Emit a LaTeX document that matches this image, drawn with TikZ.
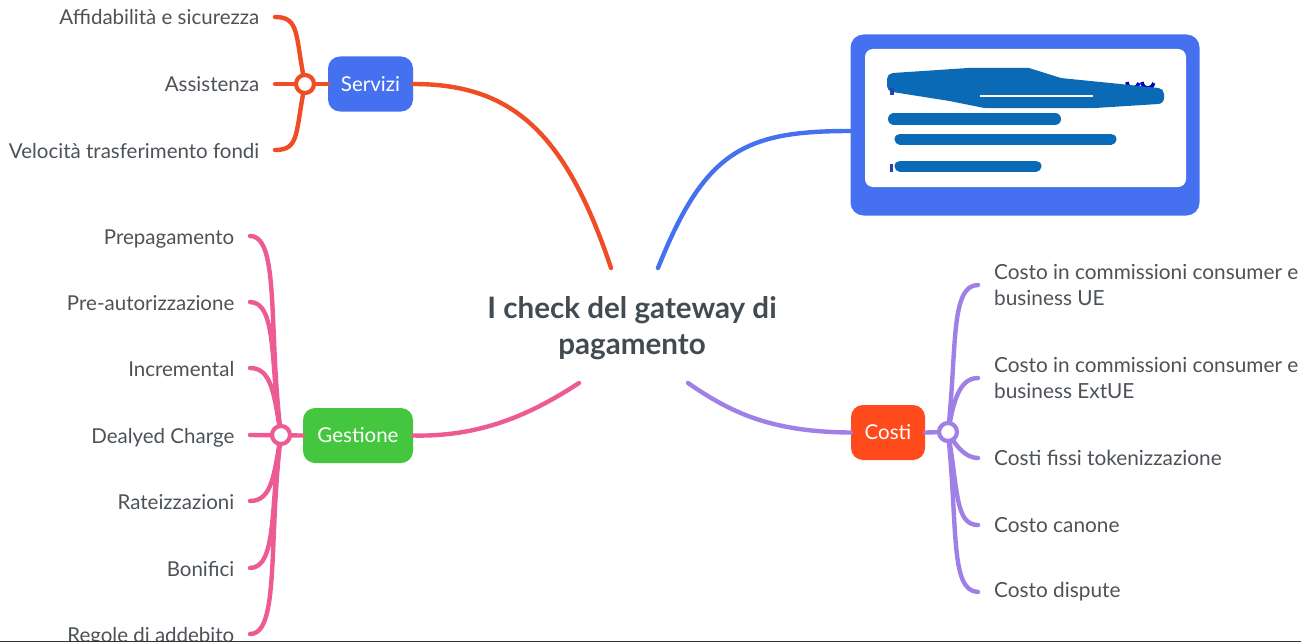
\documentclass[tikz,border=0pt]{standalone}
\usepackage{fontspec}
\setmainfont{Lato}
\definecolor{txt}{HTML}{4C5257}
\definecolor{ctxt}{HTML}{414B52}
\definecolor{redl}{HTML}{EE4D25}
\definecolor{pinkl}{HTML}{EC5C93}
\definecolor{purl}{HTML}{A07FE6}
\definecolor{bluel}{HTML}{4570F0}
\definecolor{greenb}{HTML}{44C63F}
\definecolor{redb}{HTML}{FF4A1C}
\definecolor{scrib}{HTML}{0A6AB6}
\definecolor{navy}{HTML}{2A3FB0}
\tikzset{
  conn/.style={line width=4.4pt,line cap=round},
  hub/.style={circle,draw,fill=white,line width=4.2pt,minimum size=18pt,inner sep=0pt},
  topicbox/.style={rounded corners=12pt,text=white,font=\fontsize{20.5}{24}\selectfont,minimum height=55pt,inner sep=0pt},
  leafl/.style={anchor=east,text=txt,font=\fontsize{20.5}{24}\selectfont,inner ysep=0pt,inner xsep=15.5pt,text height=18pt,text depth=2pt},
  leafr/.style={anchor=west,text=txt,font=\fontsize{20.8}{26}\selectfont,inner ysep=0pt,inner xsep=16pt,align=left},
  scribble/.style={scrib,line cap=round,line join=round},
}
\begin{document}
\begin{tikzpicture}[x=1pt,y=-1pt]
\useasboundingbox (0,0) rectangle (1301,642);
\begin{scope}
\clip (0,0) rectangle (1301,640);
% centre
\node[text=ctxt,font=\fontsize{29.6}{36}\selectfont\bfseries,align=center] (root) at (632,328) {I check del gateway di\\pagamento};
\coordinate (rs) at (611,268);
\coordinate (rb) at (658,268);
\coordinate (rg) at (579,383);
\coordinate (rc) at (688,383);
% topics
\node[topicbox,fill=bluel,minimum width=85pt] (serv) at (370.5,84) {Servizi};
\node[topicbox,fill=greenb,minimum width=110pt] (gest) at (358,435.5) {Gestione};
\node[topicbox,fill=redb,minimum width=74pt] (cost) at (888,432.5) {Costi};
% card
\node[draw=none,fill=bluel,rounded corners=13pt,minimum width=349pt,minimum height=181pt,inner sep=0pt] (card) at (1025,125) {};
\node[fill=white,rounded corners=8pt,minimum width=321pt,minimum height=138pt,inner sep=0pt] (cardin) at (1025.5,118) {};
% main branches
\draw[conn,redl] (serv.east) .. controls (510,84) and (565,130) .. (rs);
\draw[conn,bluel] (card.west |- 0,131) .. controls (745,131) and (705,150) .. (rb);
\draw[conn,pinkl] (gest.east) .. controls (480,437) and (530,415) .. (rg);
\draw[conn,purl] (cost.west) .. controls (770,432) and (730,412) .. (rc);
% leaves left top
\node[leafl] (s1) at (275,17) {Affidabilità e sicurezza};
\node[leafl] (s2) at (275,84) {Assistenza};
\node[leafl] (s3) at (275,150) {Velocità trasferimento fondi};
\coordinate (hs) at (305,84);
\draw[conn,redl] (hs) .. controls (295,35) and (300,17) .. (s1.east);
\draw[conn,redl] (hs) .. controls (295,133) and (300,150) .. (s3.east);
\draw[conn,redl] (s2.east) -- (serv.west);
\node[hub,draw=redl] (hubs) at (hs) {};
% leaves left bottom
\node[leafl] (g1) at (250,236) {Prepagamento};
\node[leafl] (g2) at (250,302) {Pre-autorizzazione};
\node[leafl] (g3) at (250,368) {Incremental};
\node[leafl] (g4) at (250,435) {Dealyed Charge};
\node[leafl] (g5) at (250,501) {Rateizzazioni};
\node[leafl] (g6) at (250,568) {Bonifici};
\node[leafl] (g7) at (250,634) {Regole di addebito};
\coordinate (hg) at (281,435);
\draw[conn,pinkl] (hg) .. controls (268,330) and (280,236) .. (g1.east);
\draw[conn,pinkl] (hg) .. controls (270,370) and (278,302) .. (g2.east);
\draw[conn,pinkl] (hg) .. controls (274,395) and (272,368) .. (g3.east);
\draw[conn,pinkl] (hg) .. controls (274,475) and (272,501) .. (g5.east);
\draw[conn,pinkl] (hg) .. controls (270,500) and (278,568) .. (g6.east);
\draw[conn,pinkl] (hg) .. controls (268,540) and (280,634) .. (g7.east);
\draw[conn,pinkl] (g4.east) -- (gest.west);
\node[hub,draw=pinkl] (hubg) at (hg) {};
% leaves right
\node[leafr] (c1) at (978,285) {Costo in commissioni consumer e\\business UE};
\node[leafr] (c2) at (978,378) {Costo in commissioni consumer e\\business ExtUE};
\node[leafr] (c3) at (978,458) {Costi fissi tokenizzazione};
\node[leafr] (c4) at (978,525) {Costo canone};
\node[leafr] (c5) at (978,592) {Costo dispute};
\coordinate (hc) at (948,432);
\draw[conn,purl] (hc) .. controls (957,350) and (950,285) .. (c1.west);
\draw[conn,purl] (hc) .. controls (953,405) and (958,378) .. (c2.west);
\draw[conn,purl] (hc) .. controls (955,445) and (965,458) .. (c3.west);
\draw[conn,purl] (hc) .. controls (958,490) and (955,525) .. (c4.west);
\draw[conn,purl] (hc) .. controls (958,530) and (950,591) .. (c5.west);
\draw[conn,purl] (cost.east) -- (hc);
\node[hub,draw=purl] (hubc) at (hc) {};
% scribbled-over content of the card
\draw[line width=3.5pt,blue!75!black] (1127,82) arc (180:10:6) (1142,82) arc (180:10:6);
\fill[scribble,draw=scrib,line width=12pt] (893,79) -- (968,74) -- (1028,74) -- (1060,84) -- (1120,90) -- (1158,94) -- (1158,98) -- (1095,102) -- (985,102) -- (950,95) -- (893,86) -- cycle;
\draw[line width=4pt,navy] (892,88) -- (892,95);
\draw[white,line width=1.3pt] (980,96) -- (1093,96);
\draw[scribble,line width=12pt] (894,119) -- (1055,119);
\draw[scribble,line width=11pt] (900,139) -- (1111,139);
\draw[scribble,line width=11pt] (900,166) -- (1036,166);
\draw[line width=3pt,navy] (891,164) -- (891,172);
\end{scope}
\fill[black!80] (0,640.5) rectangle (1301,642);
\end{tikzpicture}
\end{document}
